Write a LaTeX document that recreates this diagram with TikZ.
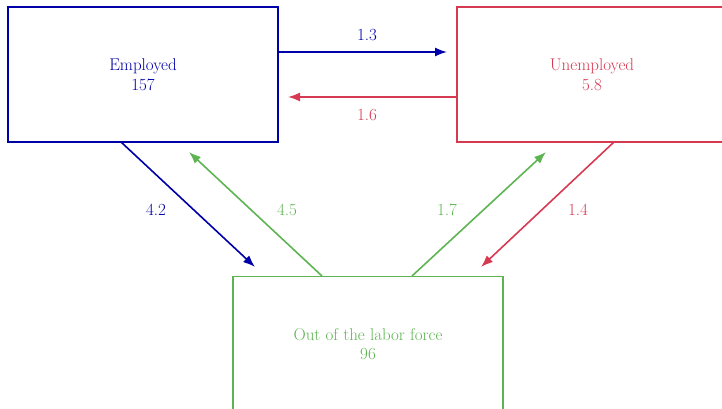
\documentclass[tikz,border=0pt]{standalone}
\usepackage{fontspec}
\usetikzlibrary{arrows.meta}
\definecolor{cblue}{RGB}{0,0,168}
\definecolor{cred}{RGB}{214,58,82}
\definecolor{cgreen}{RGB}{94,180,82}
\newcommand{\bigtxt}{\fontsize{17}{19.5}\selectfont}
\begin{document}
\begin{tikzpicture}[x=1pt,y=-1pt,
  box/.style={draw,line width=1.8pt,minimum width=270pt,minimum height=135pt,inner sep=0pt,align=center,font=\bigtxt},
  flow/.style={line width=1.6pt,-{Latex[length=12pt,width=9pt]}},
  lbl/.style={font=\bigtxt}]
\useasboundingbox (0,0) rectangle (722,409);
\clip (0,0) rectangle (722,409);
\node[box,draw=cblue,text=cblue] (emp) at (143,74.5) {Employed\\157};
\node[box,draw=cred,text=cred] (unemp) at (592,74.5) {Unemployed\\5.8};
\node[box,draw=cgreen,text=cgreen] (out) at (368,344) {Out of the labor force\\96};
% coordinates
\coordinate (a13s) at (278,52);
\coordinate (a13e) at (447,52);
\coordinate (a16s) at (457,97);
\coordinate (a16e) at (288,97);
\coordinate (a42s) at (121,142);
\coordinate (a42e) at (255,267);
\coordinate (a45s) at (322,276);
\coordinate (a45e) at (189,152);
\coordinate (a17s) at (412,276);
\coordinate (a17e) at (546,152);
\coordinate (a14s) at (614,142);
\coordinate (a14e) at (481,267);
\draw[flow,cblue] (a13s) -- (a13e);
\draw[flow,cred] (a16s) -- (a16e);
\draw[flow,cblue] (a42s) -- (a42e);
\draw[flow,cgreen] (a45s) -- (a45e);
\draw[flow,cgreen] (a17s) -- (a17e);
\draw[flow,cred] (a14s) -- (a14e);
\node[lbl,text=cblue] (l13) at (367,35) {1.3};
\node[lbl,text=cred] (l16) at (367,115) {1.6};
\node[lbl,text=cblue] (l42) at (156,210) {4.2};
\node[lbl,text=cgreen] (l45) at (287,210) {4.5};
\node[lbl,text=cgreen] (l17) at (447,210) {1.7};
\node[lbl,text=cred] (l14) at (578,210) {1.4};
\end{tikzpicture}
\end{document}
